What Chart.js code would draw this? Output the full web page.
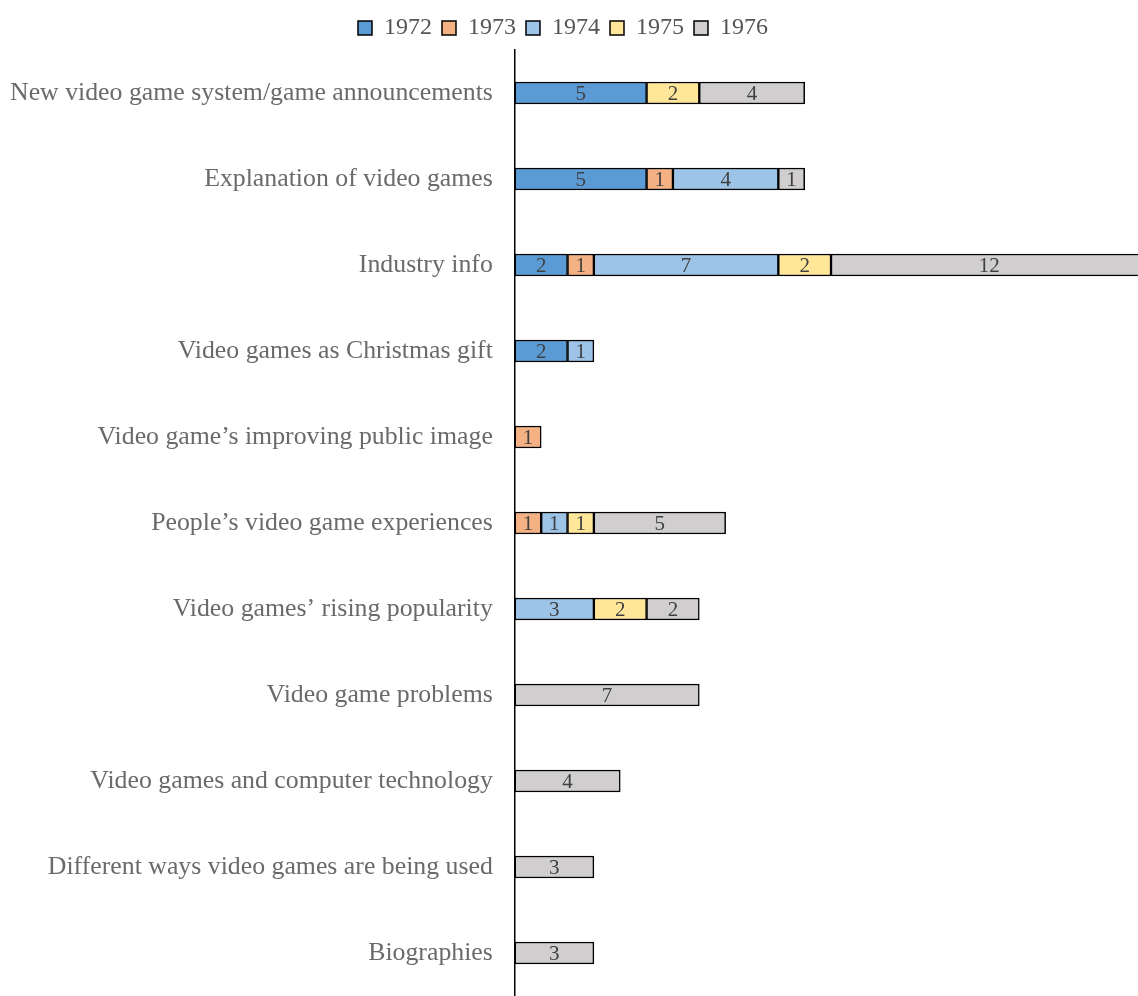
<!DOCTYPE html>
<html lang="en">
<head>
  <meta charset="UTF-8">
  <title>Video game article topics 1972-1976</title>
  <script src="https://cdn.jsdelivr.net/npm/chart.js"></script>
  <style>
    html, body { margin: 0; padding: 0; background: #fff; overflow: hidden; }
    canvas { display: block; }
  </style>
</head>
<body>
  <canvas id="topics-chart" width="1138" height="996"></canvas>
  <script>
    const topics = [
      'New video game system/game announcements',
      'Explanation of video games',
      'Industry info',
      'Video games as Christmas gift',
      'Video game\u2019s improving public image',
      'People\u2019s video game experiences',
      'Video games\u2019 rising popularity',
      'Video game problems',
      'Video games and computer technology',
      'Different ways video games are being used',
      'Biographies'
    ];
    const years = ['1972', '1973', '1974', '1975', '1976'];
    const y1972 = [5, 5, 2, 2, 0, 0, 0, 0, 0, 0, 0];
    const y1973 = [0, 1, 1, 0, 1, 1, 0, 0, 0, 0, 0];
    const y1974 = [0, 4, 7, 1, 0, 1, 3, 0, 0, 0, 0];
    const y1975 = [2, 0, 2, 0, 0, 1, 2, 0, 0, 0, 0];
    const y1976 = [4, 1, 12, 0, 0, 5, 2, 7, 4, 3, 3];
    const colors = ['#5b9bd5', '#f4b183', '#9dc3e6', '#ffe699', '#d0cece'];

    const serif = '"Liberation Serif", "DejaVu Serif", serif';

    // draws the value in the middle of each segment, zeros skipped
    const valueLabels = {
      id: 'valueLabels',
      afterDatasetsDraw(chart) {
        const ctx = chart.ctx;
        ctx.save();
        ctx.font = '21px ' + serif;
        ctx.fillStyle = '#404040';
        ctx.textAlign = 'center';
        ctx.textBaseline = 'middle';
        chart.data.datasets.forEach((ds, i) => {
          chart.getDatasetMeta(i).data.forEach((bar, j) => {
            const v = ds.data[j];
            if (!v) return;
            ctx.fillText(v, (bar.x + bar.base) / 2, bar.y + 1);
          });
        });
        ctx.restore();
      }
    };

    const series = [y1972, y1973, y1974, y1975, y1976];

    new Chart(document.getElementById('topics-chart'), {
      type: 'bar',
      data: {
        labels: topics,
        datasets: years.map((y, i) => ({
          label: y,
          data: series[i],
          backgroundColor: colors[i],
          borderColor: '#000',
          borderWidth: 1.5,
          borderSkipped: false,
          barThickness: 22
        }))
      },
      options: {
        indexAxis: 'y',
        responsive: false,
        animation: false,
        layout: { padding: { top: 6, right: 0, bottom: 0, left: -12 } },
        scales: {
          x: {
            stacked: true,
            display: false,
            ticks: { display: false },
            grid: { display: false },
            border: { display: false },
            min: 0,
            max: 23.65
          },
          y: {
            stacked: true,
            grid: { display: false, drawTicks: false },
            border: { color: '#000', width: 1.5 },
            ticks: {
              color: '#6a6a6a',
              padding: 22,
              font: { family: serif, size: 25.8 }
            },
            // axis line should run to the bottom edge
            afterFit(scale) {
              scale.paddingTop = 0;
              scale.paddingBottom = 0;
            }
          }
        },
        plugins: {
          legend: {
            position: 'top',
            labels: {
              color: '#555',
              font: { family: serif, size: 24 },
              boxWidth: 14,
              boxHeight: 14,
              padding: 10,
              generateLabels(chart) {
                return chart.data.datasets.map((ds, i) => ({
                  text: ds.label,
                  fillStyle: ds.backgroundColor,
                  strokeStyle: '#000',
                  lineWidth: 1.5,
                  fontColor: '#555',
                  datasetIndex: i
                }));
              }
            }
          },
          tooltip: { enabled: false }
        }
      },
      plugins: [valueLabels]
    });
  </script>
</body>
</html>
